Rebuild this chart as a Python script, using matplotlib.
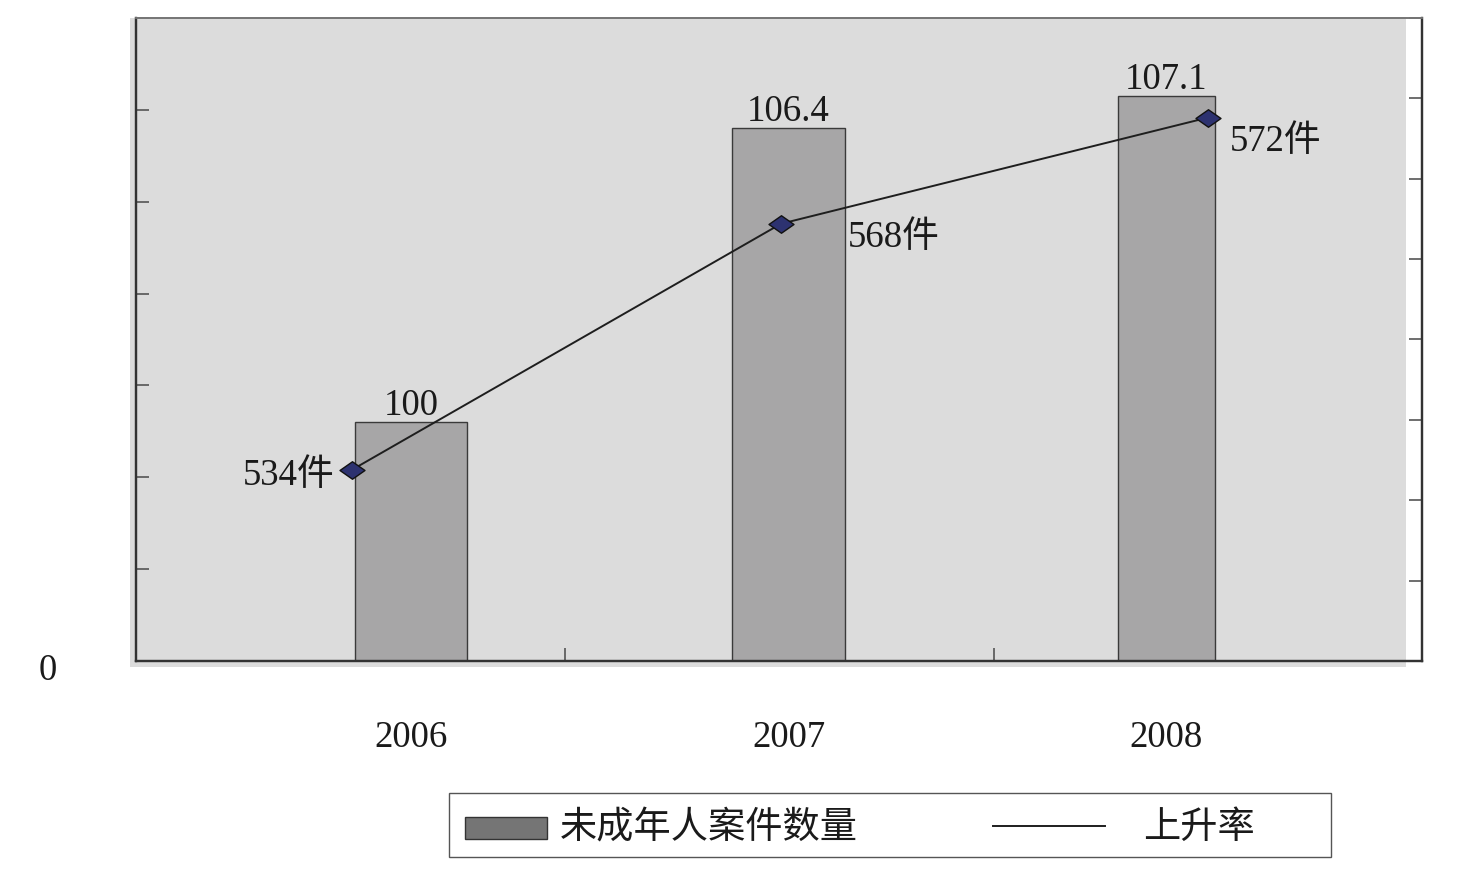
import numpy as np
import matplotlib
matplotlib.use('Agg')
import matplotlib.pyplot as plt
from matplotlib.patches import Rectangle
from matplotlib.lines import Line2D
from matplotlib.path import Path

# 数据
years = ['2006', '2007', '2008']
case_index = [100, 106.4, 107.1]     # 未成年人案件数量（以2006年为100）
case_counts = [534, 568, 572]        # 案件数（件）
rise_rate = [23.8, 54.4, 67.6]       # 上升率（按右轴刻度读出）

plt.rcParams['font.family'] = ['Liberation Serif', 'Noto Sans CJK SC']

W, H = 1458, 874
fig = plt.figure(figsize=(W / 100, H / 100), dpi=100)


def fx(px):
    return px / W


def fy(py):
    return 1 - py / H


# 灰色绘图区背景（略微偏左下，与原图一致）
fig.add_artist(Rectangle((fx(130), fy(667)), fx(1406) - fx(130), fy(18) - fy(667),
                         transform=fig.transFigure, facecolor='#dcdcdc',
                         edgecolor='none', zorder=-1))

ax = fig.add_axes([fx(136), fy(661), fx(1422) - fx(136), fy(18) - fy(661)])
ax.set_facecolor('none')

x = np.arange(len(years))
widths = [0.297, 0.297, 0.257]
ax.bar(x, case_index, width=widths, color='#a7a6a7', edgecolor='#3a3a3a',
       linewidth=1.0, zorder=2)
ax.set_xlim(-0.7285, 2.678)
ax.set_ylim(94.8, 108.8)
ax.set_yticks(np.arange(94.8, 108.85, 2))

for i, v in enumerate(case_index):
    ax.annotate(f'{v:g}', (x[i], v), xytext=(0, 12), textcoords='offset points',
                ha='center', va='center', fontsize=26.5, color='#1a1a1a', zorder=5)

# 右轴：上升率折线
ax2 = ax.twinx()
ax2.set_ylim(0, 80)
ax2.set_yticks(np.arange(0, 81, 10))
line_x = x + np.array([-0.156, -0.02, 0.11])
diamond = Path([(-1, 0), (0, 0.7), (1, 0), (0, -0.7), (-1, 0)],
               [Path.MOVETO, Path.LINETO, Path.LINETO, Path.LINETO, Path.CLOSEPOLY])
ax2.plot(line_x, rise_rate, color='#1e1e1e', linewidth=1.4, marker=diamond,
         markersize=18, markerfacecolor='#2d3270', markeredgecolor='#111111',
         markeredgewidth=1.0, zorder=3)

offsets = [(-13, -4, 'right'), (48, -10, 'left'), (16, -17, 'left')]
for i, c in enumerate(case_counts):
    dx, dy, ha = offsets[i]
    ax2.annotate(f'{c}件', (line_x[i], rise_rate[i]), xytext=(dx, dy),
                 textcoords='offset points', ha=ha, va='center',
                 fontsize=26.5, color='#1a1a1a')

# 坐标轴样式
for a in (ax, ax2):
    for side in ('left', 'bottom', 'right'):
        a.spines[side].set_color('#333333')
        a.spines[side].set_linewidth(1.6)
    a.spines['top'].set_color('#777777')
    a.spines['top'].set_linewidth(1.3)

ax.tick_params(axis='y', direction='in', length=9.5, width=1.2, color='#555555',
               labelleft=False)
ax2.tick_params(axis='y', direction='in', length=9.5, width=1.2, color='#555555',
                labelright=False)
ax.set_xticks(x)
ax.set_xticklabels(years, fontsize=26.5, color='#1a1a1a')
ax.tick_params(axis='x', which='major', length=0, pad=43)
ax.set_xticks([0.409, 1.543], minor=True)
ax.tick_params(axis='x', which='minor', direction='in', length=9.5, width=1.2,
               color='#555555')

fig.text(fx(48), fy(671), '0', ha='center', va='center', fontsize=26.5,
         color='#1a1a1a')

# 图例（手工绘制）
fig.add_artist(Rectangle((fx(449), fy(857)), fx(1331) - fx(449), fy(793) - fy(857),
                         transform=fig.transFigure, facecolor='white',
                         edgecolor='#555555', linewidth=1.0))
fig.add_artist(Rectangle((fx(465), fy(839)), fx(547) - fx(465), fy(817) - fy(839),
                         transform=fig.transFigure, facecolor='#757575',
                         edgecolor='#333333', linewidth=1.0))
fig.text(fx(560), fy(829), '未成年人案件数量', ha='left', va='center',
         fontsize=26.8, color='#1a1a1a')
fig.add_artist(Line2D([fx(993), fx(1105)], [fy(826), fy(826)],
                      transform=fig.transFigure, color='#1e1e1e', linewidth=1.4))
fig.text(fx(1143), fy(829), '上升率', ha='left', va='center',
         fontsize=26.8, color='#1a1a1a')

fig.savefig('out.png', dpi=100)
